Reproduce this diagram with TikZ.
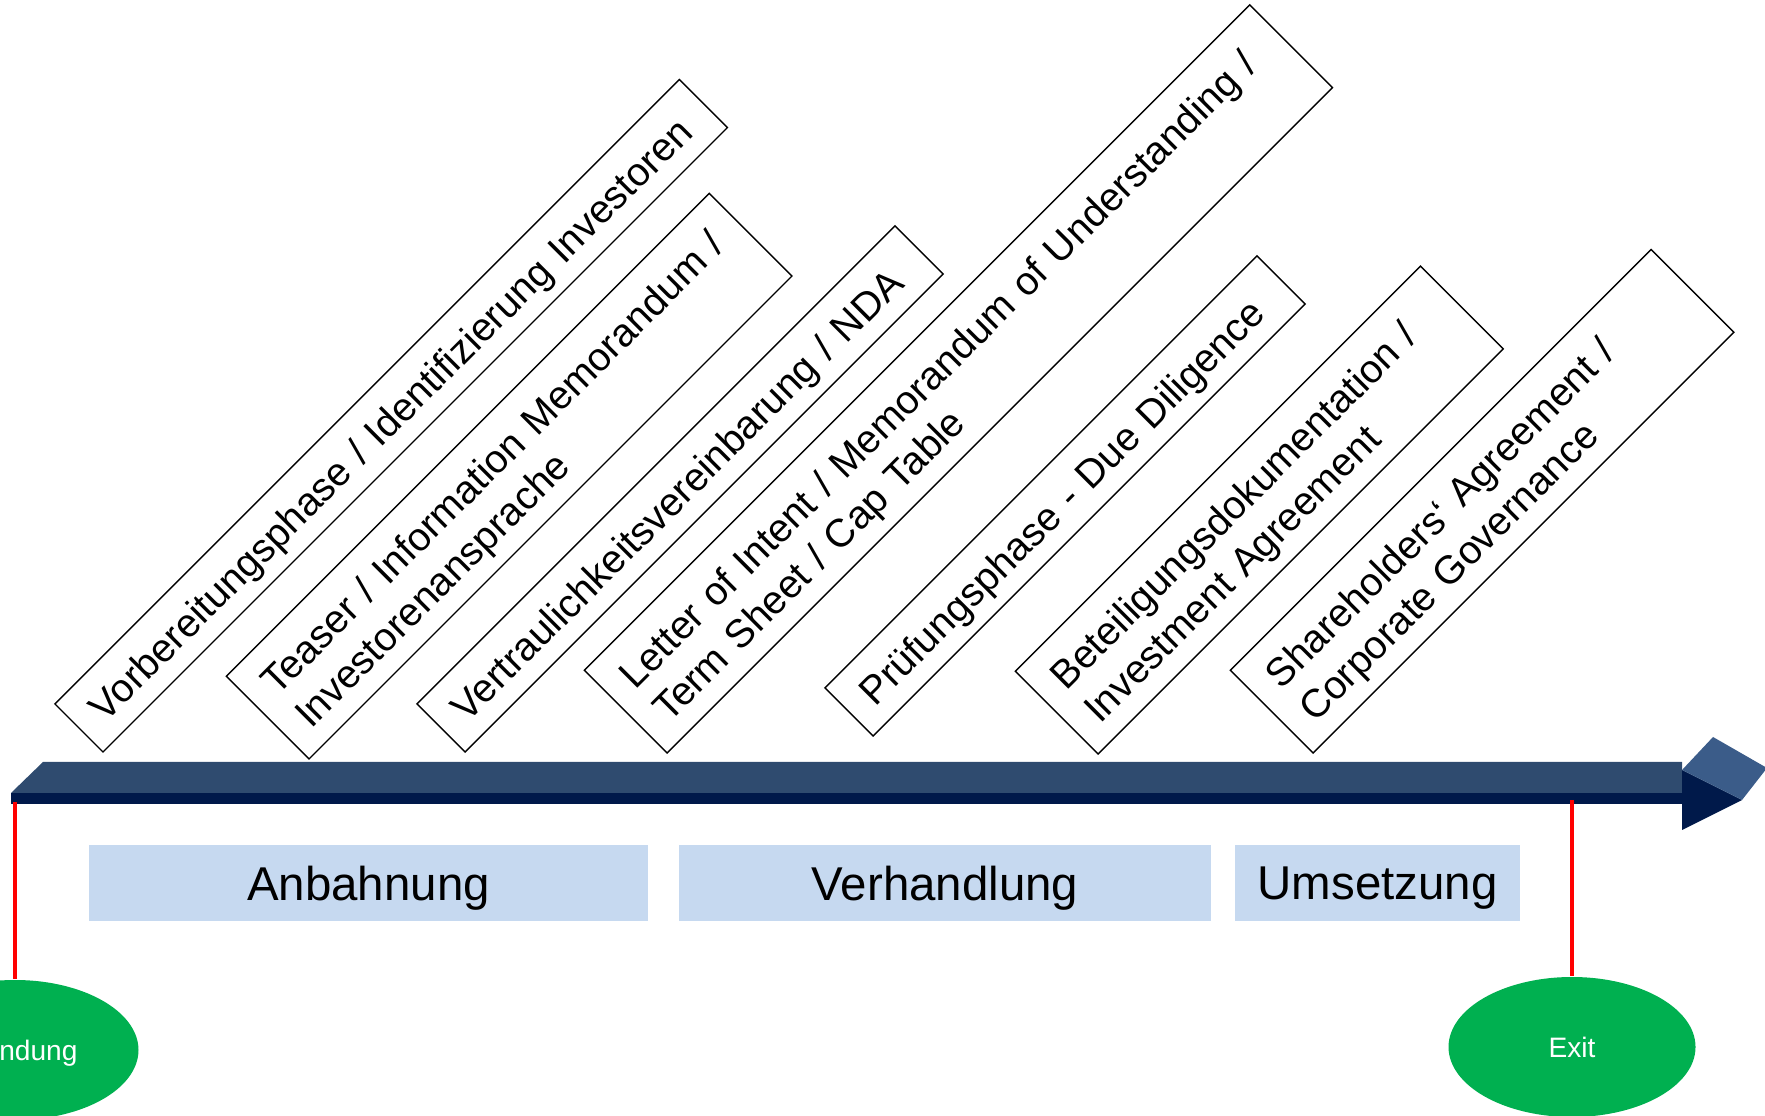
\documentclass[tikz,border=0pt]{standalone}
\usepackage{fontspec}
\setmainfont{Liberation Sans}
\usepackage{xcolor}
\usepackage{tikz}
\usetikzlibrary{shapes.geometric}
\definecolor{balken}{HTML}{2F4B6F}
\definecolor{balkenvorn}{HTML}{00194A}
\definecolor{spitze}{HTML}{3B5C89}
\definecolor{phase}{HTML}{C6D9F0}
\definecolor{gruen}{HTML}{00B050}

\begin{document}
\begin{tikzpicture}[
		schritt/.style={draw,line width=0.4pt,rotate=45,anchor=south west,align=left,inner xsep=0.1cm,inner ysep=0pt,font=\fontsize{11.25}{13.4}\selectfont,execute at begin node={\leftskip=0.12cm}},
		einzeilig/.style={minimum height=0.68cm,text height=9pt,text depth=0pt},
		zweizeilig/.style={minimum height=1.17cm,text height=11.4pt,text depth=15.8pt},
		phasenbox/.style={fill=phase,minimum height=0.76cm,inner sep=0pt,text depth=0pt,font=\fontsize{13.5}{16}\selectfont},
		ereignis/.style={ellipse,fill=gruen,minimum width=2.47cm,minimum height=1.40cm,inner sep=0pt,text depth=0pt,text=white,font=\fontsize{8}{9.6}\selectfont}]
		\useasboundingbox (0,0) rectangle (17.65,11.15);
		\fill[balken] (0.11,3.22) -- (0.43,3.53) -- (16.82,3.53) -- (16.82,3.22) -- cycle;
		\fill[balkenvorn] (0.11,3.22) rectangle (16.82,3.11);
		\fill[balkenvorn] (16.82,3.45) -- (16.82,2.85) -- (17.42,3.15) -- cycle;
		\fill[spitze] (16.82,3.45) -- (17.13,3.78) -- (17.67,3.47) -- (17.42,3.15) -- cycle;
		\node[schritt,einzeilig,text width=8.63cm] (vorbereitung) at (1.03,3.62) {Vorbereitungsphase / Identifizierung Investoren};
		\node[schritt,zweizeilig,text width=6.63cm] (teaser) at (3.09,3.55) {Teaser / Information Memorandum /\\Investorenansprache};
		\node[schritt,einzeilig,text width=6.56cm] (nda) at (4.65,3.62) {Vertraulichkeitsvereinbarung / NDA};
		\node[schritt,zweizeilig,text width=9.21cm] (loi) at (6.67,3.61) {Letter of Intent / Memorandum of Understanding /\\Term Sheet / Cap Table};
		\node[schritt,einzeilig,text width=5.91cm] (pruefung) at (8.73,3.78) {Prüfungsphase - Due Diligence};
		\node[schritt,zweizeilig,text width=5.53cm] (beteiligung) at (10.98,3.60) {Beteiligungsdokumentation /\\Investment Agreement};
		\node[schritt,zweizeilig,text width=5.75cm] (sha) at (13.13,3.61) {Shareholders‘ Agreement /\\Corporate Governance};
		\node[phasenbox,minimum width=5.59cm] (anbahnung) at (3.685,2.32) {Anbahnung};
		\node[phasenbox,minimum width=5.32cm] (verhandlung) at (9.45,2.32) {Verhandlung};
		\node[phasenbox,minimum width=2.85cm] (umsetzung) at (13.775,2.32) {Umsetzung};
		\node[ereignis] (gruendung) at (0.15,0.65) {Gründung};
		\node[ereignis] (exit) at (15.72,0.68) {Exit};
		\coordinate (start) at (0.15,3.13);
		\coordinate (ende) at (15.72,3.15);
		\draw[red,line width=1.1pt] (start) -- (gruendung.north);
		\draw[red,line width=1.1pt] (ende) -- (exit.north);
	\end{tikzpicture}
\end{document}
